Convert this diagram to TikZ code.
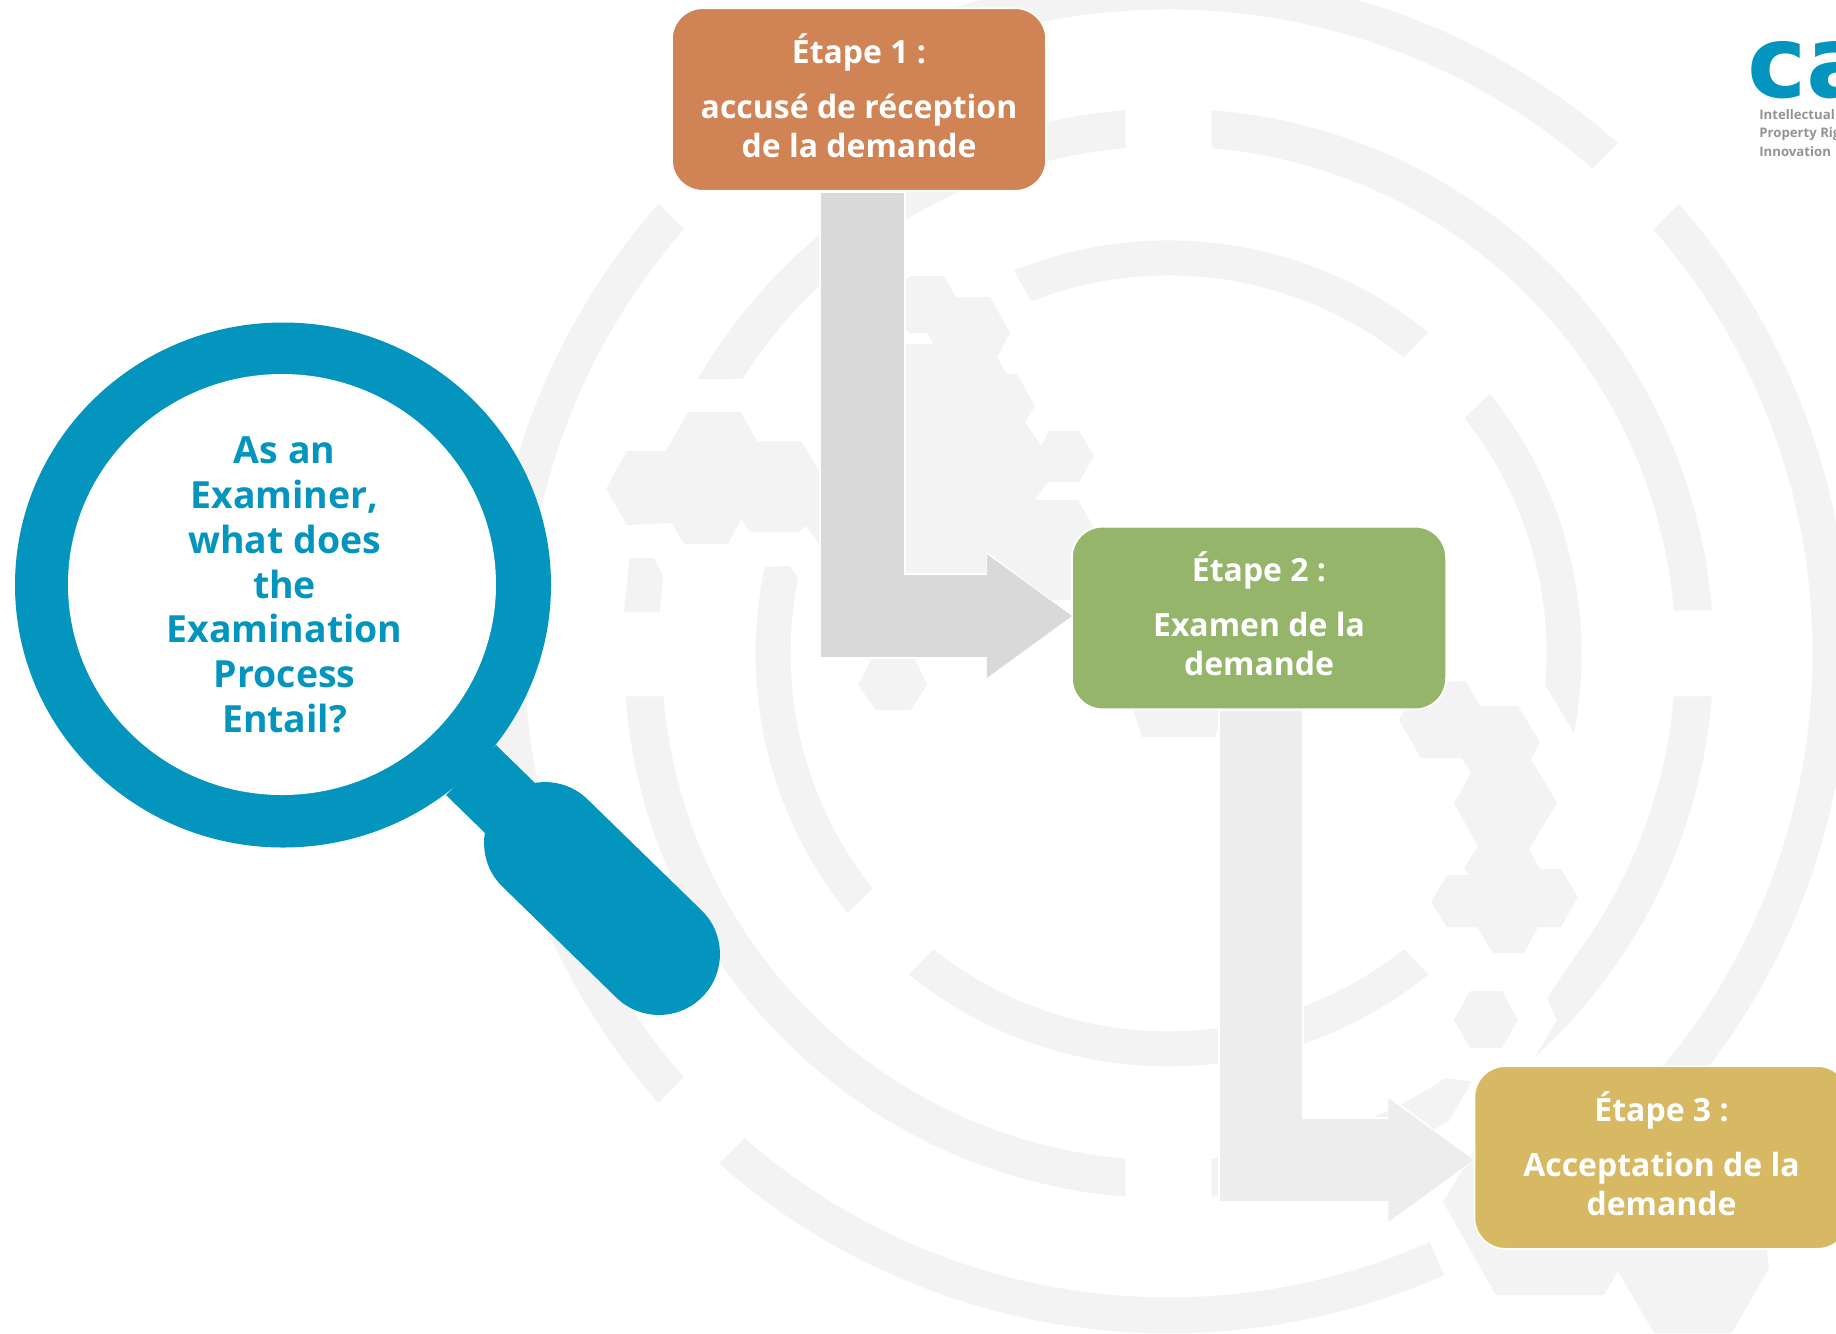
\documentclass[tikz,border=0pt]{standalone}
\usepackage{fontspec}
\setmainfont{Open Sans}
\newfontfamily\logofont{DejaVu Sans}
\usepackage{xcolor}
\usetikzlibrary{arrows.meta,calc}
\definecolor{lensblue}{HTML}{0495BF}
\definecolor{ringtone}{HTML}{F3F3F3}
\definecolor{boxorange}{HTML}{D08354}
\definecolor{boxgreen}{HTML}{95B56A}
\definecolor{boxgold}{HTML}{D7B964}
\tikzset{
	ringgray/.style={fill=ringtone},
	stepbox/.style={
			fill=#1, draw=white, line width=1pt, rounded corners=17.6pt,
			minimum width=213pt, minimum height=104pt, inner sep=0pt,
			text=white, font=\bfseries\fontsize{18.2}{22.3}\selectfont, align=center
		},
	bendarrow/.style={
			draw=#1, line width=47pt,
			-{Triangle[length=48.5pt,width=70.5pt,line width=0pt,fill=#1]}
		},
	bendshaft/.style={draw=#1, line width=47pt},
	bendhalo/.style={
			draw=white, line width=49pt,
			-{Triangle[length=49.5pt,width=73.5pt,line width=0pt,fill=white]}
		}
}
\newcommand{\ringpiece}[6]{\fill[ringgray] (#3:#1) arc[start angle=#3,end angle=#4,radius=#1] -- (#6:#2) arc[start angle=#6,end angle=#5,radius=#2] -- cycle;}
\newcommand{\lowstrut}{\rule[-4.6pt]{0pt}{1pt}}
\begin{document}
\begin{tikzpicture}[x=0.02cm,y=-0.02cm]
	\useasboundingbox (0,0) rectangle (1836,1333);
	\begin{scope}[shift={(1168.6,653.4)}]
		\ringpiece{644}{680}{-131.17}{-48.83}{-131.39}{-48.61}
		\ringpiece{644}{680}{-41.17}{41.17}{-41.39}{41.39}
		\ringpiece{644}{680}{138.83}{221.17}{138.61}{221.39}
		\ringpiece{644}{680}{66.1}{131.17}{66.1}{131.39}
		\ringpiece{507}{545}{-85.13}{-4.87}{-85.47}{-4.53}
		\ringpiece{507}{545}{212.8}{265.13}{210.2}{265.47}
		\ringpiece{507}{545}{94.87}{175.13}{94.53}{175.47}
		\fill[ringgray] (4.87:507) arc[start angle=4.87,end angle=36.6,radius=507] -- (378.4,344.6) -- (388.4,366.6) -- (47.7:545) arc[start angle=47.7,end angle=4.53,radius=545] -- cycle;
		\fill[ringgray] (85.13:507) arc[start angle=85.13,end angle=56.9,radius=507] -- (303.4,428) -- (279.4,469) -- (59.2:545) arc[start angle=59.2,end angle=85.47,radius=545] -- cycle;
		\ringpiece{378}{413}{-111.3}{-51.53}{-112}{-51.02}
		\ringpiece{378}{413}{-38.47}{4.8}{-38.98}{11.1}
		\ringpiece{378}{413}{51.53}{128.47}{51.02}{128.98}
		\fill[ringgray] (141.53:378) arc[start angle=141.53,end angle=191.4,radius=378] -- (-378.6,-87.4) -- (192.1:413) arc[start angle=192.1,end angle=141.02,radius=413] -- cycle;
	\end{scope}
	\fill[ringgray] (624,612) -- (629.5,558) -- (654,558) -- (663,576) -- (660,612) -- cycle;
	\fill[ringgray] (606,489) -- (627,451) -- (666,451) -- (688,412) -- (741,412) -- (757,441) -- (801,441) -- (825,480) -- (825,552) -- (806,526) -- (798,532) -- (750,532) -- (741,519) -- (728,544) -- (684,544) -- (672,523) -- (627,525) -- cycle;
	\fill[ringgray] (900,286) -- (910,276) -- (944,276) -- (956,297) -- (990,297) -- (1010,333) -- (997,357) -- (1007,374) -- (1017,374) -- (1035,406) -- (1025,422) -- (1041,446) -- (1049,431) -- (1079,431) -- (1094,456) -- (1079,482) -- (1048,482) -- (1035,500) -- (1078,500) -- (1094,528) -- (1094,600) -- (900,600) -- (900,344) -- (933,344) -- (928,333) -- (910,333) -- (900,324) -- cycle;
	\fill[ringgray] (858,685) -- (876,650) -- (911,650) -- (927,685) -- (911,710) -- (876,710) -- cycle;
	\fill[ringgray] (1130,700) -- (1142,737) -- (1215,737) -- (1225,700) -- cycle;
	\fill[ringgray] (398,722) -- (430,666) -- (495,666) -- (527,722) -- (495,778) -- (430,778) -- cycle;
	\fill[ringgray] (1399,720) -- (1419,685) -- (1456,681) -- (1466,681) -- (1480,706) -- (1518,706) -- (1540,742) -- (1531,759) -- (1557,803) -- (1529,849) -- (1540,869) -- (1561,869) -- (1578,897) -- (1561,927) -- (1538,927) -- (1524,953) -- (1493,953) -- (1477,927) -- (1447,927) -- (1431,902) -- (1447,875) -- (1469,875) -- (1464,868) -- (1478,846) -- (1454,803) -- (1471,773) -- (1462,758) -- (1421,758) -- cycle;
	\fill[ringgray] (1454,1020) -- (1470,991) -- (1502,991) -- (1518,1020) -- (1502,1048) -- (1470,1048) -- cycle;
	\fill[ringgray] (1443,1202) -- (1480,1140) -- (1760,1200) -- (1769,1268) -- (1732,1333) -- (1654,1333) -- (1618,1271) -- (1604,1295) -- (1496,1295) -- cycle;
	\node[anchor=base west, text=lensblue, font=\logofont\bfseries\fontsize{57}{57}\selectfont, inner sep=0pt] (logomark) at (1747,97) {ca};
	\node[anchor=north west, text=gray!85, font=\bfseries\fontsize{7.5}{10.3}\selectfont, align=left, inner sep=0pt] (logotext) at (1759,109.5) {Intellectual\\Property Rig\\Innovation};
	\node[stepbox=boxorange] (stepone) at (859,99.5) {Étape 1 :\\[9pt]accusé de réception\\de la demande\lowstrut};
	\node[stepbox=boxgreen] (steptwo) at (1259,618) {Étape 2 :\\[9pt]Examen de la\\demande\lowstrut};
	\node[stepbox=boxgold] (stepthree) at (1661.5,1157.5) {Étape 3 :\\[9pt]Acceptation de la\\demande\lowstrut};
	\draw[bendhalo] ($(stepone.south)+(3.5,0)$) |- ($(steptwo.west)+(2,-2)$);
	\draw[bendarrow=black!15] ($(stepone.south)+(3.5,1)$) |- ($(steptwo.west)+(1,-2)$);
	\draw[bendshaft=black!15] ($(stepone.south)+(3.5,1)$) |- ($(steptwo.west)+(-80,-2)$);
	\draw[bendhalo] ($(steptwo.south)+(2,0)$) |- ($(stepthree.west)+(2,2.5)$);
	\draw[bendarrow=black!7] ($(steptwo.south)+(2,1)$) |- ($(stepthree.west)+(0,2.5)$);
	\draw[bendshaft=black!7] ($(steptwo.south)+(2,1)$) |- ($(stepthree.west)+(-82,2.5)$);
	\fill[lensblue] (496,745) -- (446,795) -- (485,833) -- (535,783) -- cycle;
	\draw[lensblue, line width=69.4pt, line cap=round] (545,843) -- (659,954);
	\fill[lensblue] (283,585) ellipse [x radius=268,y radius=262.5];
	\fill[white] (282,584.5) ellipse [x radius=214,y radius=210.5];
	\node[text=lensblue, font=\bfseries\fontsize{21.3}{25.5}\selectfont, align=center, inner sep=0pt] (lenstext) at (284.6,585) {As an\\Examiner,\\what does\\the\\Examination\\Process\\Entail?};
\end{tikzpicture}
\end{document}
